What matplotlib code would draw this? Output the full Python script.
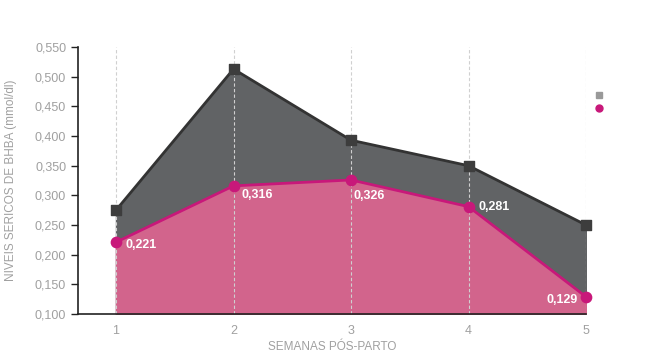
import matplotlib.pyplot as plt
import numpy as np

# data
semanas = [1, 2, 3, 4, 5]
serie_escura = [0.275, 0.513, 0.393, 0.350, 0.250]
serie_rosa = [0.221, 0.316, 0.326, 0.281, 0.129]
rotulos_rosa = ['0,221', '0,316', '0,326', '0,281', '0,129']
yticks = [0.100, 0.150, 0.200, 0.250, 0.300, 0.350, 0.400, 0.450, 0.500, 0.550]

plt.rcParams['font.family'] = ['Liberation Sans', 'DejaVu Sans']

fig = plt.figure(figsize=(6.67, 3.54), dpi=100)
ax = fig.add_axes([0.117, 0.113, 0.7616, 0.754])

x = np.array(semanas)
ax.fill_between(x, serie_escura, 0.1, color='#616365', zorder=1)
ax.fill_between(x, serie_rosa, 0.1, color='#d2648c', zorder=2)
ax.plot(x, serie_escura, color='#333333', lw=2, zorder=3)
ax.plot(x, serie_rosa, color='#c8187a', lw=2, zorder=4)
ax.scatter(x, serie_escura, marker='s', s=50, color='#3d3d3d', zorder=5, clip_on=False)
ax.scatter(x, serie_rosa, marker='o', s=55, color='#c8187a', zorder=6, clip_on=False)

# label offsets (points) and alignment per point
offsets = [(6.5, -2), (6, -6.5), (2, -11.5), (7, 0), (-6, -2)]
for i, (xi, yi, lab) in enumerate(zip(x, serie_rosa, rotulos_rosa)):
    dx, dy = offsets[i]
    ax.annotate(lab, (xi, yi), xytext=(dx, dy), textcoords='offset points',
                ha='right' if dx < 0 else 'left', va='center', color='white',
                fontweight='bold', fontsize=9, zorder=7)

for xi in x:
    ax.axvline(xi, color='#d0d0d0', lw=0.8, ls=(0, (3, 2)), zorder=2.5)

ax.set_xlim(0.677, 5)
ax.set_ylim(0.1, 0.55)
ax.set_yticks(yticks)
ax.set_yticklabels([f'{v:.3f}'.replace('.', ',') for v in yticks])
ax.set_xticks(semanas)
ax.set_xticklabels([str(s) for s in semanas])
ax.tick_params(axis='y', colors='#222222', labelcolor='#a0a0a0', labelsize=9, length=5, width=1)
ax.tick_params(axis='x', length=0, labelcolor='#a0a0a0', labelsize=9, pad=8)
for side in ['top', 'right']:
    ax.spines[side].set_visible(False)
for side in ['left', 'bottom']:
    ax.spines[side].set_color('#222222')
    ax.spines[side].set_linewidth(1.2)

ax.set_xlabel('SEMANAS PÓS-PARTO', color='#a0a0a0', fontsize=8.5, labelpad=3)
ax.set_ylabel('NIVEIS SERICOS DE BHBA (mmol/dl)', color='#a0a0a0', fontsize=8.5, labelpad=13)

h1 = plt.Line2D([], [], marker='s', color='#999999', ls='', markersize=4.5)
h2 = plt.Line2D([], [], marker='o', color='#c8187a', ls='', markersize=5)
fig.legend([h1, h2], ['', ''], loc='upper left', bbox_to_anchor=(0.882, 0.768),
           frameon=False, handlelength=0.6, handletextpad=0, labelspacing=-0.1, borderpad=0)

fig.savefig('out.png', dpi=100)
